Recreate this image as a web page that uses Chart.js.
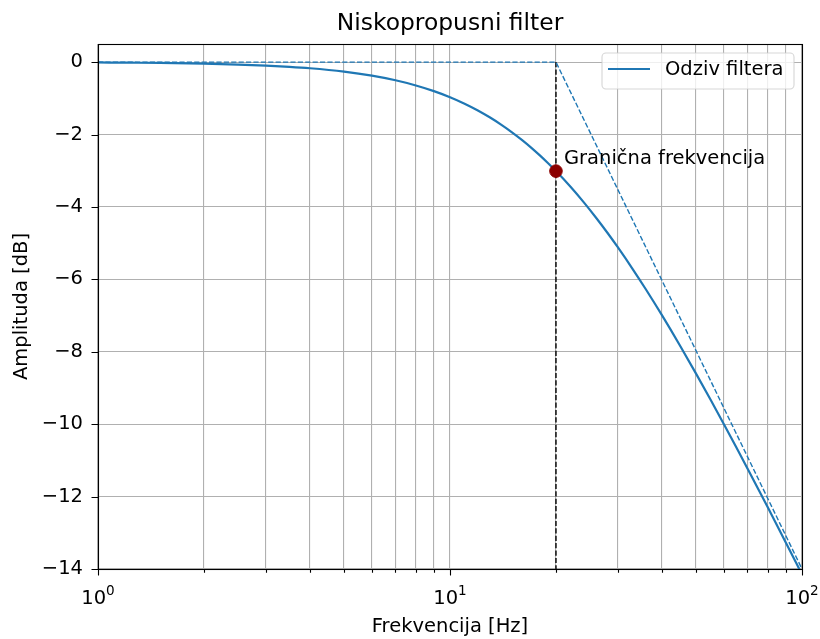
<!DOCTYPE html>
<html>
<head>
<meta charset="utf-8">
<script src="https://cdn.jsdelivr.net/npm/chart.js@4/dist/chart.umd.min.js"></script>
<style>
  html, body { margin: 0; padding: 0; background: #fff; }
  #wrap { width: 820px; height: 639px; }
</style>
</head>
<body>
<div id="wrap"><canvas id="filterChart" width="820" height="639"></canvas></div>
<script>
// Frequency response of the low-pass filter (dB)
const freqs = [1, 1.25, 1.5, 2, 2.5, 3, 3.5, 4, 5, 6, 7, 8, 9, 10, 11, 12, 13, 14, 15, 16, 17, 18, 19, 20,
  22, 24, 26, 28, 30, 33, 36, 40, 45, 50, 55, 60, 65, 70, 80, 90, 100];
const responseDb = [-0.01, -0.017, -0.024, -0.043, -0.067, -0.097, -0.131, -0.17, -0.263, -0.374, -0.502, -0.645, -0.801,
  -0.969, -1.148, -1.335, -1.531, -1.732, -1.938, -2.148, -2.361, -2.577, -2.794, -3.01,
  -3.444, -3.874, -4.298, -4.713, -5.119, -5.708, -6.274, -6.99, -7.826, -8.603, -9.326, -10.0, -10.63, -11.222,
  -12.304, -13.274, -14.15];

// Bode asymptotes
const asymFreqs = [1, 20, 100];
const asymDb = [0, 0, -14];

// Cutoff frequency marker
const cutoffFreq = 20;
const cutoffDb = -3.01;
const cutoffLine = [0, -14];
const cutoffLabel = 'Granična frekvencija';

const xTicks = [1, 2, 3, 4, 5, 6, 7, 8, 9, 10, 20, 30, 40, 50, 60, 70, 80, 90, 100];
const xMajor = [1, 10, 100];
const xMajorExp = ['0', '1', '2'];
const yTicks = [-14, -12, -10, -8, -6, -4, -2, 0];

const FONT = 'DejaVu Sans';
const BLUE = '#1f77b4';

const toXY = (xs, ys) => xs.map((x, i) => ({ x: x, y: ys[i] }));

const frame = {
  id: 'frame',
  afterDraw(chart) {
    const ctx = chart.ctx;
    const a = chart.chartArea;
    const xs = chart.scales.x, ys = chart.scales.y;
    ctx.save();

    // title
    ctx.fillStyle = '#000';
    ctx.font = `23.4px "${FONT}"`;
    ctx.textAlign = 'center';
    ctx.textBaseline = 'alphabetic';
    ctx.fillText('Niskopropusni filter', (a.left + a.right) / 2, 30);

    // tick marks
    ctx.strokeStyle = '#000';
    ctx.lineWidth = 1.1;
    ctx.beginPath();
    xTicks.forEach(v => {
      const px = Math.round(xs.getPixelForValue(v)) + 0.5;
      const len = xMajor.includes(v) ? 6.5 : 3.8;
      ctx.moveTo(px, a.bottom);
      ctx.lineTo(px, a.bottom + len);
    });
    yTicks.forEach(v => {
      const py = Math.round(ys.getPixelForValue(v)) + 0.5;
      ctx.moveTo(a.left, py);
      ctx.lineTo(a.left - 6.5, py);
    });
    ctx.stroke();

    // x tick labels 10^n
    ctx.textAlign = 'left';
    xMajor.forEach((v, i) => {
      const px = xs.getPixelForValue(v);
      ctx.font = `19.5px "${FONT}"`;
      const wBase = ctx.measureText('10').width;
      ctx.font = `13.6px "${FONT}"`;
      const wExp = ctx.measureText(xMajorExp[i]).width;
      const x0 = px - (wBase + wExp) / 2;
      ctx.font = `19.5px "${FONT}"`;
      ctx.fillText('10', x0, 604);
      ctx.font = `13.6px "${FONT}"`;
      ctx.fillText(xMajorExp[i], x0 + wBase, 595);
    });

    // cutoff annotation
    ctx.font = `19.5px "${FONT}"`;
    ctx.fillText(cutoffLabel, xs.getPixelForValue(cutoffFreq) + 8, ys.getPixelForValue(cutoffDb) - 7);

    // legend
    const lx = 602, ly = 53, lw = 192, lh = 36;
    ctx.beginPath();
    ctx.roundRect(lx, ly, lw, lh, 4);
    ctx.fillStyle = 'rgba(255,255,255,0.8)';
    ctx.fill();
    ctx.strokeStyle = 'rgba(204,204,204,0.8)';
    ctx.lineWidth = 1.1;
    ctx.stroke();
    ctx.beginPath();
    ctx.strokeStyle = BLUE;
    ctx.lineWidth = 2.2;
    ctx.moveTo(608, 69);
    ctx.lineTo(650, 69);
    ctx.stroke();
    ctx.fillStyle = '#000';
    ctx.textBaseline = 'middle';
    ctx.fillText('Odziv filtera', 665, 70);

    // axes frame
    ctx.strokeStyle = '#000';
    ctx.lineWidth = 1.1;
    ctx.strokeRect(Math.round(a.left) + 0.5, Math.round(a.top) + 0.5,
      Math.round(a.right - a.left), Math.round(a.bottom - a.top));
    ctx.restore();
  }
};

new Chart(document.getElementById('filterChart'), {
  type: 'line',
  data: {
    datasets: [
      {
        label: 'Odziv filtera',
        data: toXY(freqs, responseDb),
        borderColor: BLUE,
        borderWidth: 2.2,
        pointRadius: 0,
        cubicInterpolationMode: 'monotone',
        order: 1
      },
      {
        label: 'asimptote',
        data: toXY(asymFreqs, asymDb),
        borderColor: BLUE,
        borderWidth: 1.4,
        borderDash: [5.2, 2.2],
        pointRadius: 0,
        tension: 0,
        order: 2
      },
      {
        label: 'fc',
        data: cutoffLine.map(y => ({ x: cutoffFreq, y: y })),
        borderColor: '#000',
        borderWidth: 1.4,
        borderDash: [5.2, 2.2],
        pointRadius: 0,
        tension: 0,
        order: 3
      },
      {
        label: 'fc tocka',
        data: [{ x: cutoffFreq, y: cutoffDb }],
        showLine: false,
        pointRadius: 6.3,
        pointBackgroundColor: '#8b0000',
        pointBorderColor: '#8b0000',
        pointBorderWidth: 1,
        order: 0
      }
    ]
  },
  options: {
    responsive: false,
    animation: false,
    events: [],
    layout: { padding: { top: 44, right: 18, left: 0, bottom: 0 } },
    plugins: {
      legend: { display: false },
      title: { display: false },
      tooltip: { enabled: false }
    },
    scales: {
      x: {
        type: 'logarithmic',
        min: 1,
        max: 100,
        afterBuildTicks: s => { s.ticks = xTicks.map(v => ({ value: v })); },
        afterFit: s => { s.height = 70; },
        ticks: { display: false },
        grid: { color: '#b0b0b0', lineWidth: 1.1, drawTicks: false },
        border: { display: false },
        title: {
          display: true,
          text: 'Frekvencija [Hz]',
          color: '#000',
          font: { family: FONT, size: 19.5, lineHeight: 1.2 },
          padding: { top: 0, bottom: 0 }
        }
      },
      y: {
        type: 'linear',
        min: -14,
        max: 0.5,
        afterBuildTicks: s => { s.ticks = yTicks.map(v => ({ value: v })); },
        afterFit: s => { s.width = 98; },
        ticks: {
          color: '#000',
          font: { family: FONT, size: 19.5 },
          padding: 15,
          callback: v => (v < 0 ? '\u2212' + Math.abs(v) : String(v))
        },
        grid: { color: '#b0b0b0', lineWidth: 1.1, drawTicks: false },
        border: { display: false },
        title: {
          display: true,
          text: 'Amplituda [dB]',
          color: '#000',
          font: { family: FONT, size: 19.5, lineHeight: 1.2 },
          padding: { top: 10, bottom: 0 }
        }
      }
    }
  },
  plugins: [frame]
});
</script>
</body>
</html>
